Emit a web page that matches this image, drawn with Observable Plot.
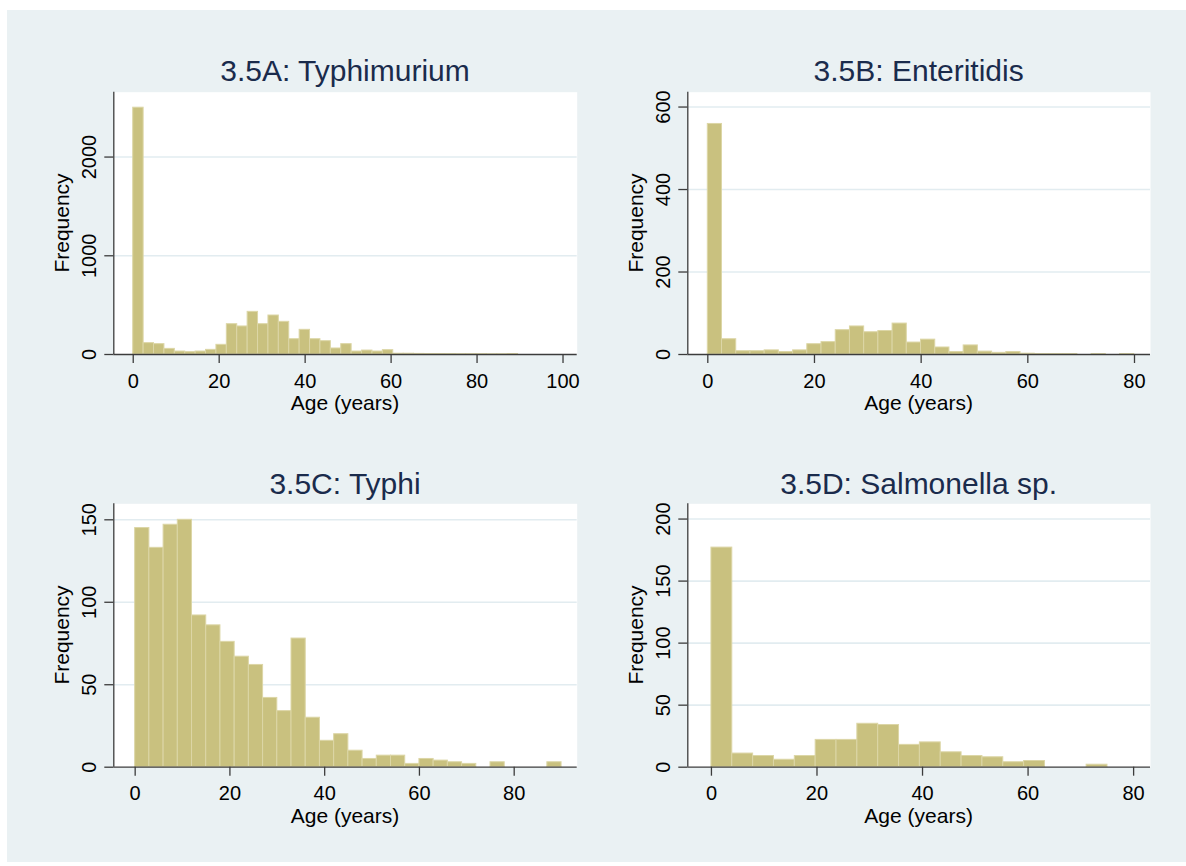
<!DOCTYPE html>
<html>
<head>
<meta charset="utf-8">
<script src="https://cdn.jsdelivr.net/npm/d3@7"></script>
<script src="https://cdn.jsdelivr.net/npm/@observablehq/plot@0.6"></script>
<style>
  html, body { margin: 0; padding: 0; background: #ffffff; }
  #root { position: relative; width: 1186px; height: 866px; overflow: hidden; font-family: "Liberation Sans", Arial, sans-serif; }
  #bg { position: absolute; left: 7px; top: 10px; width: 1179px; height: 852px; background: #EAF1F3; }
  .panel { position: absolute; }
  .title { position: absolute; font-size: 30px; line-height: 34px; color: #1A2B4C; white-space: nowrap; transform: translateX(-50%); }
  .xlab { position: absolute; font-size: 21px; line-height: 20px; color: #000; white-space: nowrap; transform: translateX(-50%); }
  .ylab { position: absolute; font-size: 21px; line-height: 20px; color: #000; white-space: nowrap; transform: translate(-50%, -50%) rotate(-90deg); }
</style>
</head>
<body>
<div id="root"><div id="bg"></div></div>
<script>
// ---------- Data (frequencies per age bin) ----------
const titles = ["3.5A: Typhimurium", "3.5B: Enteritidis", "3.5C: Typhi", "3.5D: Salmonella sp."];
const xLabel = "Age (years)";
const yLabel = "Frequency";

// bin widths (years) of each histogram, bins start at age 0
const binWidthA = 2.42;
const binWidthB = 2.665;
const binWidthC = 3.0;
const binWidthD = 3.95;

const countsA = [2500, 115, 105, 57, 30, 24, 30, 47, 98, 307, 284, 432, 307, 395, 331, 155, 250, 155, 135, 61, 105, 30, 40, 30, 44,
                 8, 8, 6, 5, 5, 4, 3, 3, 3, 2, 2, 5];
const countsB = [559, 37, 8, 8, 10, 6, 10, 25, 30, 59, 68, 54, 57, 75, 29, 36, 17, 6, 22, 7, 4, 6, 2, 1, 1, 1, 0, 1, 0, 1];
const countsC = [145, 133, 147, 150, 92, 86, 76, 67, 62, 42, 34, 78, 30, 16, 20, 10, 5, 7, 7, 2, 5, 4, 3, 2, 0, 3, 0, 0, 0, 3];
const countsD = [177, 11, 9, 6, 9, 22, 22, 35, 34, 18, 20, 12, 9, 8, 4, 5, 0, 0, 2];

// axis ticks
const xTicksA = [0, 20, 40, 60, 80, 100];
const yTicksA = [0, 1000, 2000];
const xTicksB = [0, 20, 40, 60, 80];
const yTicksB = [0, 200, 400, 600];
const xTicksC = [0, 20, 40, 60, 80];
const yTicksC = [0, 50, 100, 150];
const xTicksD = [0, 20, 40, 60, 80];
const yTicksD = [0, 50, 100, 150, 200];

// scale domains
const xDomainA = [-4.52, 103.3];
const yDomainA = [0, 2657];
const xDomainB = [-3.75, 83.0];
const yDomainB = [0, 636];
const xDomainC = [-4.51, 93.3];
const yDomainC = [0, 159.7];
const xDomainD = [-4.48, 83.2];
const yDomainD = [0, 212.3];

// ---------- Styling ----------
const barFill = "#C9C17F";
const barStroke = "#DCD6A6";
const gridColor = "#E2ECF0";
const axisColor = "#3C3C3C";

function toBins(counts, w) {
  return counts.map((c, i) => ({x1: i * w, x2: (i + 1) * w, count: c}));
}

function panel(cfg) {
  const bins = toBins(cfg.counts, cfg.w);
  const chart = Plot.plot({
    width: cfg.width, height: cfg.height,
    marginLeft: cfg.ml, marginRight: cfg.mr, marginTop: cfg.mt, marginBottom: cfg.mb,
    style: {background: "transparent", fontFamily: "'Liberation Sans', Arial, sans-serif", fontSize: "20px", color: "#000", overflow: "visible"},
    x: {domain: cfg.xDomain},
    y: {domain: cfg.yDomain},
    marks: [
      Plot.frame({fill: "white", stroke: null}),
      Plot.gridY(cfg.yTicks.filter(d => d > 0), {stroke: gridColor, strokeOpacity: 1, strokeWidth: 1.6}),
      Plot.rectY(bins, {x1: "x1", x2: "x2", y: "count", fill: barFill, stroke: barStroke, strokeWidth: 1}),
      Plot.ruleY([cfg.yDomain[0]], {stroke: axisColor, strokeWidth: 1.3}),
      Plot.ruleX([cfg.xDomain[0]], {stroke: axisColor, strokeWidth: 1.3}),
      Plot.axisX(cfg.xTicks, {tickSize: 9, tickPadding: 10, stroke: axisColor, strokeWidth: 1.3, label: null, tickFormat: d3.format("d")}),
      Plot.axisY(cfg.yTicks, {tickSize: 9, tickPadding: 9, tickRotate: -90, stroke: axisColor, strokeWidth: 1.3, label: null, tickFormat: d3.format("d")})
    ]
  });
  chart.classList.add("panel");
  chart.style.left = cfg.left + "px";
  chart.style.top = cfg.top + "px";
  const root = document.getElementById("root");
  root.appendChild(chart);

  const plotL = cfg.left + cfg.ml, plotR = cfg.left + cfg.width - cfg.mr;
  const plotT = cfg.top + cfg.mt, plotB = cfg.top + cfg.height - cfg.mb;
  const cx = (plotL + plotR) / 2, cy = (plotT + plotB) / 2;

  const t = document.createElement("div");
  t.className = "title"; t.textContent = cfg.title;
  t.style.left = cx + "px"; t.style.top = (cfg.titleY - 17) + "px";
  root.appendChild(t);

  const xl = document.createElement("div");
  xl.className = "xlab"; xl.textContent = xLabel;
  xl.style.left = cx + "px"; xl.style.top = (plotB + 49 - 10) + "px";
  root.appendChild(xl);

  const yl = document.createElement("div");
  yl.className = "ylab"; yl.textContent = yLabel;
  yl.style.left = (plotL - 51) + "px"; yl.style.top = cy + "px";
  root.appendChild(yl);
}

panel({title: titles[0], counts: countsA, w: binWidthA, xTicks: xTicksA, yTicks: yTicksA, xDomain: xDomainA, yDomain: yDomainA,
       left: 0, top: 60, width: 593, height: 370, ml: 113.3, mr: 16.3, mt: 31.7, mb: 76, titleY: 71});
panel({title: titles[1], counts: countsB, w: binWidthB, xTicks: xTicksB, yTicks: yTicksB, xDomain: xDomainB, yDomain: yDomainB,
       left: 593, top: 60, width: 593, height: 370, ml: 94.3, mr: 36, mt: 31.7, mb: 76, titleY: 71});
panel({title: titles[2], counts: countsC, w: binWidthC, xTicks: xTicksC, yTicks: yTicksC, xDomain: xDomainC, yDomain: yDomainC,
       left: 0, top: 470, width: 593, height: 370, ml: 113.3, mr: 16.3, mt: 33.3, mb: 73.3, titleY: 484});
panel({title: titles[3], counts: countsD, w: binWidthD, xTicks: xTicksD, yTicks: yTicksD, xDomain: xDomainD, yDomain: yDomainD,
       left: 593, top: 470, width: 593, height: 370, ml: 94.3, mr: 36, mt: 33.3, mb: 73.3, titleY: 484});
</script>
</body>
</html>
